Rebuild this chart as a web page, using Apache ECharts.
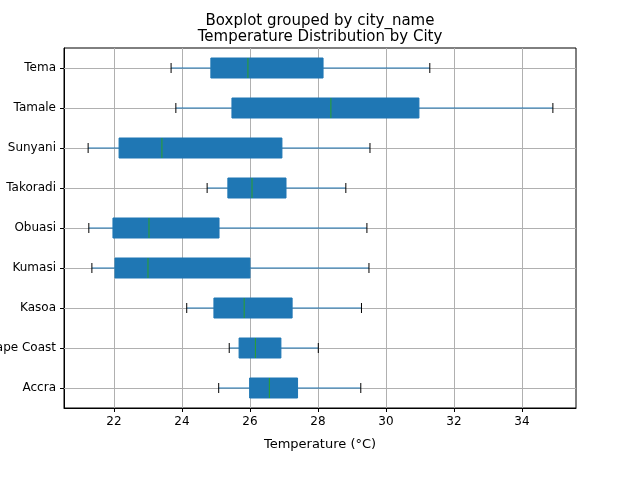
<!DOCTYPE html>
<html>
<head>
<meta charset="utf-8">
<script src="https://cdn.jsdelivr.net/npm/echarts@6/dist/echarts.min.js"></script>
<style>html,body{margin:0;padding:0;background:#fff}#main{width:640px;height:480px}</style>
</head>
<body>
<div id="main"></div>
<script>
var cities = ['Accra', 'Cape Coast', 'Kasoa', 'Kumasi', 'Obuasi', 'Takoradi', 'Sunyani', 'Tamale', 'Tema'];
var lows    = [25.08, 25.39, 24.14, 21.35, 21.26, 24.74, 21.24, 23.82, 23.68];
var q1s     = [25.99, 25.68, 24.94, 22.03, 21.97, 25.35, 22.15, 25.47, 24.85];
var medians = [26.57, 26.16, 25.83, 23.00, 23.03, 26.06, 23.41, 28.38, 25.94];
var q3s     = [27.40, 26.91, 27.24, 26.00, 25.09, 27.06, 26.94, 30.97, 28.15];
var highs   = [29.26, 28.01, 29.28, 29.50, 29.44, 28.82, 29.53, 34.91, 31.29];
var xTicks  = [22, 24, 26, 28, 30, 32, 34];

var rows = cities.map(function (c, i) {
    return [i, lows[i], q1s[i], medians[i], q3s[i], highs[i]];
});

var myChart = echarts.init(document.getElementById('main'));

function renderBox(params, api) {
    var i = api.value(0);
    var p = function (v) { return api.coord([v, i]); };
    var y = p(api.value(3))[1];
    var lo = p(api.value(1))[0], a = p(api.value(2))[0], m = p(api.value(3))[0],
        b = p(api.value(4))[0], hi = p(api.value(5))[0];
    var h = 10, cap = 5;
    var blue = '#1f77b4';
    return {
        type: 'group',
        children: [
            { type: 'line', shape: { x1: lo, y1: y, x2: a, y2: y }, style: { stroke: blue, lineWidth: 1 } },
            { type: 'line', shape: { x1: b, y1: y, x2: hi, y2: y }, style: { stroke: blue, lineWidth: 1 } },
            { type: 'line', shape: { x1: lo, y1: y - cap, x2: lo, y2: y + cap }, style: { stroke: '#000', lineWidth: 1 } },
            { type: 'line', shape: { x1: hi, y1: y - cap, x2: hi, y2: y + cap }, style: { stroke: '#000', lineWidth: 1 } },
            { type: 'rect', shape: { x: a, y: y - h, width: b - a, height: 2 * h }, style: { fill: blue, stroke: blue, lineWidth: 1 } },
            { type: 'line', shape: { x1: m, y1: y - h, x2: m, y2: y + h }, style: { stroke: '#2ca02c', lineWidth: 1 } }
        ]
    };
}

var font = 'DejaVu Sans';
var option = {
    animation: false,
    title: [
        { text: 'Boxplot grouped by city_name', left: 'center', top: 9,
          textStyle: { fontFamily: font, fontSize: 15, fontWeight: 'normal', color: '#000' } },
        { text: 'Temperature Distribution by City', left: 'center', top: 25,
          textStyle: { fontFamily: font, fontSize: 15, fontWeight: 'normal', color: '#000' } }
    ],
    grid: { left: 64, right: 64, top: 48, bottom: 72, containLabel: false, outerBoundsMode: 'none',
            show: true, borderColor: '#000', borderWidth: 1 },
    xAxis: {
        type: 'value', min: 20.53, max: 35.59,
        name: 'Temperature (°C)', nameLocation: 'middle', nameGap: 30,
        nameTextStyle: { fontFamily: font, fontSize: 13, color: '#000' },
        axisLine: { show: true, lineStyle: { color: '#000' } },
        axisTick: { show: true, customValues: xTicks, lineStyle: { color: '#000' }, length: 4 },
        axisLabel: { fontFamily: font, fontSize: 12, color: '#000', customValues: xTicks },
        splitLine: { show: false }
    },
    yAxis: {
        type: 'category', data: cities, boundaryGap: true,
        axisLine: { show: true, lineStyle: { color: '#000' } },
        axisTick: { show: true, alignWithLabel: true, lineStyle: { color: '#000' }, length: 4 },
        axisLabel: { fontFamily: font, fontSize: 12, color: '#000' },
        splitLine: { show: false }
    },
    series: [
        {
            type: 'line', data: cities.map(function (c) { return [35.59, c]; }),
            symbol: 'none', lineStyle: { width: 0 }, z: 1,
            markLine: {
                silent: true, symbol: 'none', label: { show: false }, z: 1,
                lineStyle: { color: '#b0b0b0', type: 'solid', width: 1 },
                data: cities.map(function (c) { return { yAxis: c }; })
                    .concat(xTicks.map(function (t) { return { xAxis: t }; }))
            }
        },
        {
            type: 'custom', renderItem: renderBox, data: rows, z: 5,
            encode: { x: [1, 2, 3, 4, 5], y: 0 }
        }
    ]
};

myChart.setOption(option);
</script>
</body>
</html>
